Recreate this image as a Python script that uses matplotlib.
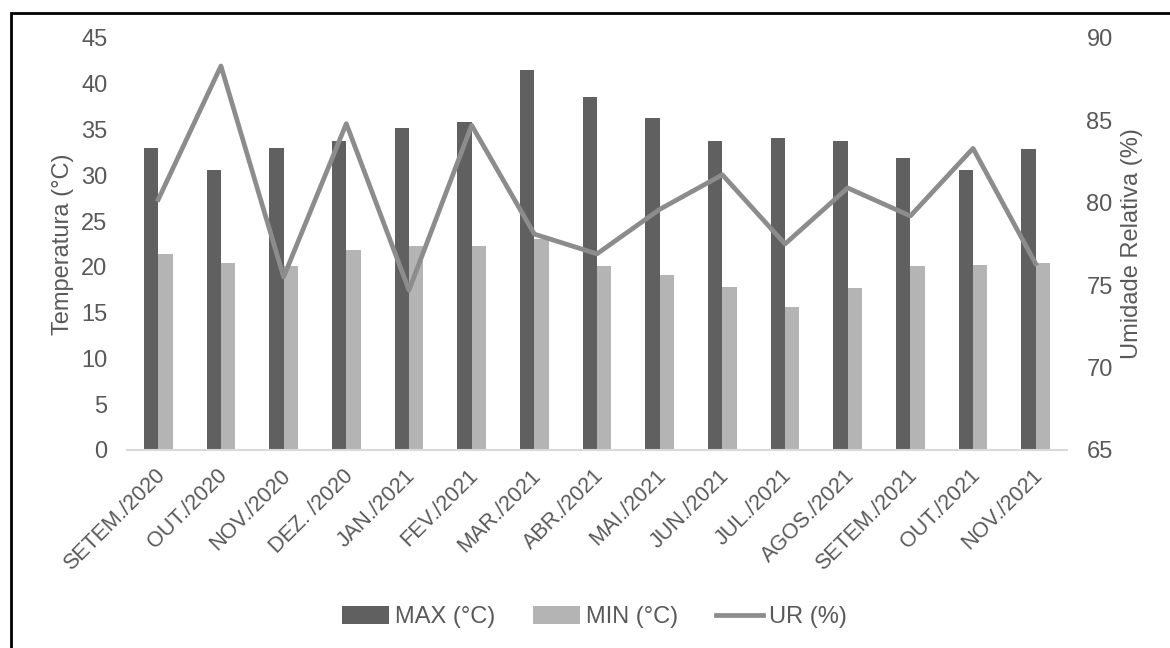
import matplotlib

matplotlib.use("Agg")
import matplotlib.pyplot as plt
import matplotlib.transforms as mtransforms
import numpy as np
from matplotlib.patches import Rectangle

months = ["SETEM./2020", "OUT./2020", "NOV./2020", "DEZ. /2020", "JAN./2021",
          "FEV./2021", "MAR./2021", "ABR./2021", "MAI./2021", "JUN./2021",
          "JUL./2021", "AGOS./2021", "SETEM./2021", "OUT./2021", "NOV./2021"]
t_max = [33.0, 30.6, 33.0, 33.8, 35.2, 35.8, 41.5, 38.6, 36.3, 33.7, 34.1, 33.7, 31.9, 30.6, 32.9]
t_min = [21.4, 20.4, 20.1, 21.8, 22.3, 22.3, 23.0, 20.1, 19.1, 17.8, 15.6, 17.7, 20.1, 20.2, 20.4]
ur = [80.2, 88.3, 75.5, 84.8, 74.7, 84.7, 78.1, 76.9, 79.6, 81.7, 77.5, 80.9, 79.2, 83.3, 76.3]

plt.rcParams["font.family"] = ["Liberation Sans", "DejaVu Sans"]
txt = "#595959"

fig = plt.figure(figsize=(11.7, 6.48), dpi=100)
ax = fig.add_axes([0.1085, 0.3056, 0.8035, 0.6358])
x = np.arange(len(months))
w = 0.23
ax.bar(x - w / 2, t_max, width=w, color="#606060", label="MAX (°C)")
ax.bar(x + w / 2, t_min, width=w, color="#b4b4b4", label="MIN (°C)")
ax.set_xlim(-0.5, len(months) - 0.5)
ax.set_ylim(0, 45)
ax.set_yticks(range(0, 46, 5))
ax.set_xticks(x)
ax.set_xticklabels(months, rotation=45, ha="right", rotation_mode="anchor")
ax.tick_params(length=0, labelsize=17, colors=txt)
ax.tick_params(axis="x", labelsize=15.5, pad=11)
ax.tick_params(axis="y", pad=14)
shift = mtransforms.ScaledTranslation(-4 / 100, 0, fig.dpi_scale_trans)
for lbl in ax.get_xticklabels():
    lbl.set_transform(lbl.get_transform() + shift)
for s in ["top", "left", "right"]:
    ax.spines[s].set_visible(False)
ax.spines["bottom"].set_color("#d9d9d9")
ax.spines["bottom"].set_linewidth(1.5)
ax.set_ylabel("Temperatura (°C)", fontsize=17, color=txt, labelpad=5)

ax2 = ax.twinx()
ax2.plot(x, ur, color="#8c8c8c", lw=3.4, label="UR (%)")
ax2.set_ylim(65, 90)
ax2.set_yticks(range(65, 91, 5))
ax2.tick_params(length=0, labelsize=17, colors=txt, pad=14)
for s in ["top", "left", "right", "bottom"]:
    ax2.spines[s].set_visible(False)
ax2.set_ylabel("Umidade Relativa (%)", fontsize=17, color=txt, labelpad=6)

h1, l1 = ax.get_legend_handles_labels()
h2, l2 = ax2.get_legend_handles_labels()
leg = fig.legend(h1 + h2, l1 + l2, loc="center", bbox_to_anchor=(0.508, 1 - 617 / 648),
                 ncol=3, frameon=False, fontsize=17, handlelength=2.0, handleheight=0.8,
                 handletextpad=0.25, columnspacing=1.6)
for t in leg.get_texts():
    t.set_color(txt)

# border (top and left edges of the original frame)
fig.patches.append(Rectangle((11 / 1170, -0.1), 1.2, 1.1 - 13 / 648, transform=fig.transFigure,
                             fill=False, edgecolor="black", lw=2))

fig.savefig("out.png", dpi=100)
